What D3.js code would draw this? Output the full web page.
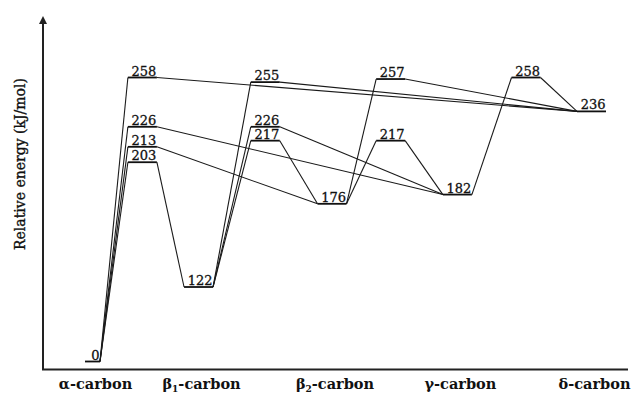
<!DOCTYPE html>
<html>
<head>
<meta charset="utf-8">
<script src="https://cdn.jsdelivr.net/npm/d3@7"></script>
<style>
  body { margin: 0; background: #fff; }
  svg { display: block; }
  .link { fill: none; stroke: #1a1a1a; stroke-width: 1.1; }
  .level { stroke: #111; stroke-width: 1.8; }
  .energy { font-family: "DejaVu Serif", serif; font-size: 13px; fill: #111; stroke: #111; stroke-width: 0.3; }
  .stage { font-family: "DejaVu Serif", serif; font-size: 14.5px; font-weight: bold; fill: #111; }
  .ylab { font-family: "DejaVu Serif", serif; font-size: 14px; fill: #111; stroke: #111; stroke-width: 0.35; }
  .axis { stroke: #222; stroke-width: 2; }
</style>
</head>
<body>
<div id="chart"></div>
<script>
// intermediates (radical position) along the reaction coordinate
const stageGreek = ["α", "β", "β", "γ", "δ"];
const stageSub = ["", "1", "2", "", ""];
const stageCoord = [0, 1.7, 3.84, 5.85, 8];
const stageEnergy = [0, 122, 176, 182, 236];

// transition-state column that follows each intermediate
const tsCoord = [0.8, 2.77, 4.78, 6.95];

// transition states: from stage -> to stage, energy in kJ/mol
const tsFrom = [0, 0, 0, 0, 1, 1, 1, 2, 2, 3];
const tsTo = [4, 3, 2, 1, 4, 3, 2, 4, 3, 4];
const tsEnergy = [258, 226, 213, 203, 255, 226, 217, 257, 217, 258];

const W = 634, H = 394;

function makeChart() {
    const svg = d3.select("#chart").append("svg")
                  .attr("width", W)
                  .attr("height", H);

    const x = d3.scaleLinear().domain([0, 8]).range([92.5, 591.5]);
    // schematic, not to scale below the first intermediate
    const y = d3.scaleLinear().domain([0, 122, 258]).range([361.5, 287, 77.5]);

    const HW = 14.5;
    const stageHW = (i) => (i === 0 ? 7.5 : HW);

    const stages = stageEnergy.map((e, i) => ({
        cx: x(stageCoord[i]), e: e, hw: stageHW(i)
    }));
    const ts = tsEnergy.map((e, i) => ({
        cx: x(tsCoord[tsFrom[i]]), e: e, hw: HW, from: tsFrom[i], to: tsTo[i]
    }));

    // arrow for y axis
    svg.append("defs").append("marker")
       .attr("id", "arrow")
       .attr("viewBox", "0 0 10 10")
       .attr("refX", 5).attr("refY", 5)
       .attr("markerWidth", 4).attr("markerHeight", 4)
       .attr("orient", "auto")
       .append("path")
       .attr("d", "M0,0L10,5L0,10z")
       .attr("fill", "#222");

    // axes
    svg.append("line").attr("class", "axis")
       .attr("x1", 43).attr("y1", 369.5).attr("x2", 43).attr("y2", 20)
       .attr("marker-end", "url(#arrow)");
    svg.append("line").attr("class", "axis")
       .attr("x1", 42).attr("y1", 369.5).attr("x2", 628).attr("y2", 369.5);

    // connecting lines
    const links = [];
    ts.forEach((t) => {
        const a = stages[t.from], b = stages[t.to];
        links.push([[a.cx + a.hw, y(a.e)], [t.cx - t.hw, y(t.e)]]);
        links.push([[t.cx + t.hw, y(t.e)], [b.cx - b.hw, y(b.e)]]);
    });
    svg.append("g")
       .selectAll("line")
       .data(links)
       .enter()
       .append("line")
       .attr("class", "link")
       .attr("x1", (d) => d[0][0]).attr("y1", (d) => d[0][1])
       .attr("x2", (d) => d[1][0]).attr("y2", (d) => d[1][1]);

    // energy levels and labels
    const levels = stages.concat(ts);
    const lv = svg.append("g")
                  .selectAll("g")
                  .data(levels)
                  .enter()
                  .append("g");
    lv.append("line")
      .attr("class", "level")
      .attr("x1", (d) => d.cx - d.hw).attr("x2", (d) => d.cx + d.hw)
      .attr("y1", (d) => y(d.e)).attr("y2", (d) => y(d.e));
    lv.append("text")
      .attr("class", "energy")
      .attr("text-anchor", "end")
      .attr("x", (d) => d.cx + d.hw - 0.5)
      .attr("y", (d) => y(d.e) - 2)
      .text((d) => d.e);

    // stage labels
    const sl = svg.append("g")
                  .selectAll("text")
                  .data(stages)
                  .enter()
                  .append("text")
                  .attr("class", "stage")
                  .attr("text-anchor", "middle")
                  .attr("x", (d) => d.cx + 3)
                  .attr("y", 389);
    sl.append("tspan").text((d, i) => stageGreek[i]);
    sl.append("tspan")
      .attr("font-size", "9px")
      .attr("dy", (d, i) => (stageSub[i] ? 3 : 0))
      .text((d, i) => stageSub[i]);
    sl.append("tspan")
      .attr("dy", (d, i) => (stageSub[i] ? -3 : 0))
      .text("-carbon");

    // y axis title
    svg.append("text")
       .attr("class", "ylab")
       .attr("text-anchor", "middle")
       .attr("transform", "translate(25,164) rotate(-90)")
       .text("Relative energy (kJ/mol)");
}

makeChart();
</script>
</body>
</html>
